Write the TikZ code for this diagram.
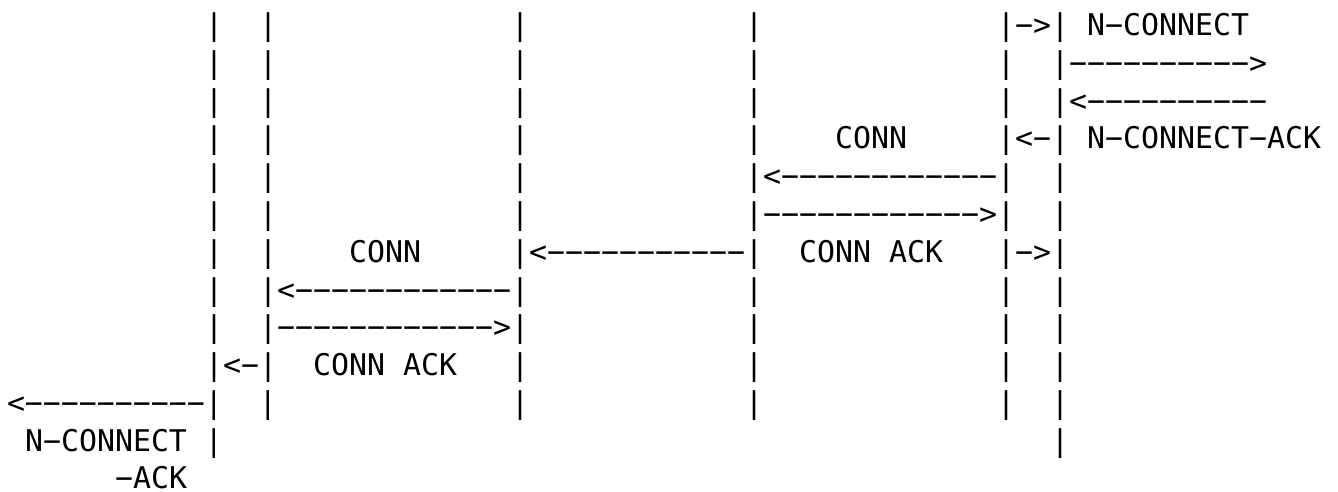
\documentclass[tikz,border=0pt]{standalone}
\usepackage{fontspec}
\setmonofont{DejaVu Sans Mono}
% n fixed-width blanks in the monospaced font
\ExplSyntaxOn
\NewDocumentCommand\gap{m}{\prg_replicate:nn{#1}{\nobreakspace}}
\ExplSyntaxOff
\begin{document}
\begin{tikzpicture}[x=1pt,y=1pt,
  row/.style={anchor=base west,inner sep=0pt,outer sep=0pt,
    font=\ttfamily\fontsize{29.9pt}{37.8pt}\selectfont}]
\useasboundingbox (0,0) rectangle (1338,-492);
\def\rowy#1{-35.6-37.78*#1}
\node[row] (line0)  at (7,{\rowy{0}})  {\gap{11}|\gap{2}|\gap{13}|\gap{12}|\gap{13}|−>|\gap{1}N−CONNECT};
\node[row] (line1)  at (7,{\rowy{1}})  {\gap{11}|\gap{2}|\gap{13}|\gap{12}|\gap{13}|\gap{2}|−−−−−−−−−−>};
\node[row] (line2)  at (7,{\rowy{2}})  {\gap{11}|\gap{2}|\gap{13}|\gap{12}|\gap{13}|\gap{2}|<−−−−−−−−−−};
\node[row] (line3)  at (7,{\rowy{3}})  {\gap{11}|\gap{2}|\gap{13}|\gap{12}|\gap{4}CONN\gap{5}|<−|\gap{1}N−CONNECT−ACK};
\node[row] (line4)  at (7,{\rowy{4}})  {\gap{11}|\gap{2}|\gap{13}|\gap{12}|<−−−−−−−−−−−−|\gap{2}|};
\node[row] (line5)  at (7,{\rowy{5}})  {\gap{11}|\gap{2}|\gap{13}|\gap{12}|−−−−−−−−−−−−>|\gap{2}|};
\node[row] (line6)  at (7,{\rowy{6}})  {\gap{11}|\gap{2}|\gap{4}CONN\gap{5}|<−−−−−−−−−−−|\gap{2}CONN\gap{1}ACK\gap{3}|−>|};
\node[row] (line7)  at (7,{\rowy{7}})  {\gap{11}|\gap{2}|<−−−−−−−−−−−−|\gap{12}|\gap{13}|\gap{2}|};
\node[row] (line8)  at (7,{\rowy{8}})  {\gap{11}|\gap{2}|−−−−−−−−−−−−>|\gap{12}|\gap{13}|\gap{2}|};
\node[row] (line9)  at (7,{\rowy{9}})  {\gap{11}|<−|\gap{2}CONN\gap{1}ACK\gap{3}|\gap{12}|\gap{13}|\gap{2}|};
\node[row] (line10) at (7,{\rowy{10}}) {<−−−−−−−−−−|\gap{2}|\gap{13}|\gap{12}|\gap{13}|\gap{2}|};
\node[row] (line11) at (7,{\rowy{11}}) {\gap{1}N−CONNECT\gap{1}|\gap{46}|};
\node[row] (line12) at (7,{\rowy{12}}) {\gap{6}−ACK};
\end{tikzpicture}
\end{document}
